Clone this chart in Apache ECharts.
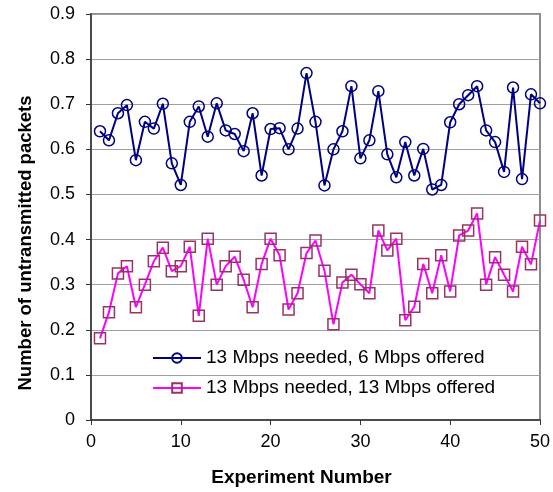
<!DOCTYPE html>
<html>
<head>
<meta charset="utf-8">
<script src="https://cdn.jsdelivr.net/npm/echarts@6/dist/echarts.min.js"></script>
<style>
    html, body { margin: 0; padding: 0; background: #fff; }
    #chart { width: 553px; height: 492px; }
</style>
</head>
<body>
<div id="chart"></div>
<script>
    // experiment numbers
    var experiments = [1,2,3,4,5,6,7,8,9,10,11,12,13,14,15,16,17,18,19,20,
        21,22,23,24,25,26,27,28,29,30,31,32,33,34,35,36,37,38,39,40,
        41,42,43,44,45,46,47,48,49,50];
    // 13 Mbps needed, 6 Mbps offered
    var offered6 = [0.640,0.620,0.680,0.698,0.576,0.661,0.646,0.701,0.569,0.521,
        0.661,0.695,0.628,0.702,0.642,0.634,0.596,0.680,0.542,0.645,
        0.647,0.600,0.646,0.769,0.661,0.520,0.600,0.640,0.740,0.580,
        0.620,0.729,0.589,0.538,0.616,0.542,0.601,0.511,0.521,0.660,
        0.700,0.720,0.740,0.642,0.616,0.550,0.737,0.534,0.722,0.702];
    // 13 Mbps needed, 13 Mbps offered
    var offered13 = [0.181,0.239,0.325,0.341,0.250,0.300,0.352,0.382,0.330,0.341,
        0.384,0.231,0.402,0.300,0.341,0.362,0.311,0.250,0.346,0.402,
        0.365,0.245,0.281,0.370,0.398,0.331,0.212,0.305,0.322,0.301,
        0.281,0.420,0.376,0.402,0.221,0.251,0.346,0.281,0.365,0.285,
        0.409,0.420,0.458,0.300,0.361,0.322,0.285,0.384,0.345,0.442];
    var seriesNames = ['13 Mbps needed, 6 Mbps offered', '13 Mbps needed, 13 Mbps offered'];

    function pairs(vals) {
        return vals.map(function (v, i) { return [experiments[i], v]; });
    }

    var font = 'Arial, "Liberation Sans", sans-serif';
    var chart = echarts.init(document.getElementById('chart'));
    chart.setOption({
        animation: false,
        backgroundColor: '#fff',
        textStyle: { fontFamily: font },
        grid: {
            left: 91, right: 9, top: 14, bottom: 68,
            show: true, borderColor: '#8c8c8c', borderWidth: 2
        },
        legend: {
            orient: 'vertical',
            left: 147, top: 343,
            itemWidth: 48, itemHeight: 12, itemGap: 10,
            textStyle: { fontFamily: font, fontSize: 19, color: '#000', lineHeight: 20 },
            data: seriesNames
        },
        xAxis: {
            type: 'value',
            min: 0, max: 50, interval: 10,
            name: 'Experiment Number',
            nameLocation: 'middle',
            nameGap: 48,
            // title sits a little left of the plot centre in the original
            nameTextStyle: { fontFamily: font, fontSize: 19, fontWeight: 'bold', color: '#000', padding: [0, 28, 0, 0] },
            axisLine: { lineStyle: { color: '#333', width: 1.5 } },
            axisTick: { show: true, length: 5, lineStyle: { color: '#333' } },
            axisLabel: { fontFamily: font, fontSize: 18, color: '#000', margin: 13 },
            splitLine: { show: false }
        },
        yAxis: {
            type: 'value',
            min: 0, max: 0.9, interval: 0.1,
            name: 'Number of untransmitted packets',
            nameLocation: 'middle',
            nameGap: 56,
            nameTextStyle: { fontFamily: font, fontSize: 18.5, fontWeight: 'bold', color: '#000', padding: [0, 52, 0, 0] },
            axisLine: { show: true, lineStyle: { color: '#333', width: 1.5 } },
            axisTick: { show: true, length: 5, lineStyle: { color: '#333' } },
            axisLabel: {
                fontFamily: font, fontSize: 18, color: '#000', margin: 16,
                formatter: function (v) { return v === 0 ? '0' : v.toFixed(1); }
            },
            splitLine: { show: true, lineStyle: { color: '#a0a0a0', width: 1 } }
        },
        series: [
            {
                name: seriesNames[0],
                type: 'line',
                data: pairs(offered6),
                symbol: 'circle',
                symbolSize: 11,
                lineStyle: { color: '#000080', width: 2 },
                itemStyle: { color: 'rgba(0,0,0,0)', borderColor: '#000080', borderWidth: 1.5 }
            },
            {
                name: seriesNames[1],
                type: 'line',
                data: pairs(offered13),
                symbol: 'rect',
                symbolSize: 11,
                lineStyle: { color: '#ff00ff', width: 2 },
                itemStyle: { color: 'rgba(0,0,0,0)', borderColor: '#993366', borderWidth: 1.5 }
            }
        ]
    });
</script>
</body>
</html>
